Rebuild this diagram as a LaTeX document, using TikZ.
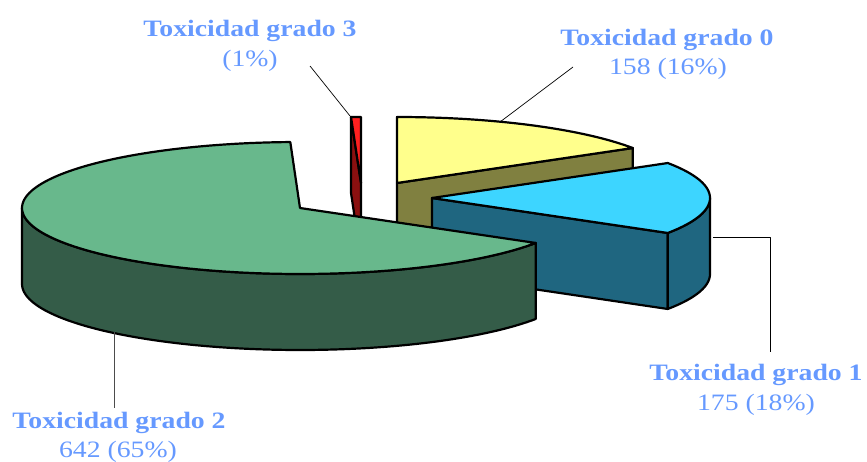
\documentclass[tikz,border=0pt]{standalone}
\usepackage{fontspec}
\setmainfont{Liberation Serif}
\usepackage{graphicx}
\definecolor{lblue}{HTML}{6699FF}
\definecolor{gtop}{HTML}{68B88C}
\definecolor{gside}{HTML}{345C48}
\definecolor{ytop}{HTML}{FFFF8C}
\definecolor{yside}{HTML}{808040}
\definecolor{ctop}{HTML}{3DD5FF}
\definecolor{cside}{HTML}{1F6680}
\definecolor{rtop}{HTML}{FF2020}
\definecolor{rside}{HTML}{8B1010}
\begin{document}
\begin{tikzpicture}[x=1pt,y=-1pt,line join=round,
  edge/.style={draw=black,line width=2.2pt},
  lbl/.style={text=lblue,font=\fontsize{23.5}{28}\selectfont,inner sep=0pt,anchor=base},
  leader/.style={draw=black,line width=0.7pt}]
\useasboundingbox (0,0) rectangle (867,462);
% ---------- yellow slice (grado 0) ----------
\filldraw[edge,fill=yside] (397,183) -- (632.8,148) -- (632.8,224) -- (397,259) -- cycle;
\filldraw[edge,fill=ytop] (397,183) -- plot[domain=-90:-32,samples=40,variable=\t] ({397+278*cos(\t)},{183+66*sin(\t)}) -- cycle;
% ---------- red slice (grado 3) ----------
\filldraw[edge,fill=rside] (351,117) -- (361,183) -- (361,259) -- (351,193) -- cycle;
\filldraw[edge,fill=rtop] (351,117) -- (361,117) -- (361,183) -- cycle;
% ---------- cyan slice (grado 1) ----------
\filldraw[edge,fill=cside] (432,198) -- (667.8,233) -- (667.8,309) -- (432,274) -- cycle;
\filldraw[edge,fill=cside] plot[domain=0:32,samples=30,variable=\t] ({432+278*cos(\t)},{198+66*sin(\t)})
  -- plot[domain=32:0,samples=30,variable=\t] ({432+278*cos(\t)},{274+66*sin(\t)}) -- cycle;
\filldraw[edge,fill=ctop] (432,198) -- plot[domain=-32:32,samples=50,variable=\t] ({432+278*cos(\t)},{198+66*sin(\t)}) -- cycle;
% ---------- green slice (grado 2) ----------
\filldraw[edge,fill=gside] plot[domain=32:180,samples=90,variable=\t] ({300+278*cos(\t)},{208+66*sin(\t)})
  -- plot[domain=180:32,samples=90,variable=\t] ({300+278*cos(\t)},{284+66*sin(\t)}) -- cycle;
\filldraw[edge,fill=gtop] (300,208) -- plot[domain=32:268,samples=140,variable=\t] ({300+278*cos(\t)},{208+66*sin(\t)}) -- cycle;
% ---------- labels ----------
\node[lbl] (lab0a) at (667,46) {\scalebox{1.18}[1]{\textbf{Toxicidad grado 0}}};
\node[lbl] (lab0b) at (668,75) {\scalebox{1.18}[1]{158 (16\%)}};
\node[lbl] (lab1a) at (756,380) {\scalebox{1.18}[1]{\textbf{Toxicidad grado 1}}};
\node[lbl] (lab1b) at (756,410) {\scalebox{1.18}[1]{175 (18\%)}};
\node[lbl] (lab2a) at (119,428) {\scalebox{1.18}[1]{\textbf{Toxicidad grado 2}}};
\node[lbl] (lab2b) at (118,457) {\scalebox{1.18}[1]{642 (65\%)}};
\node[lbl] (lab3a) at (250,37) {\scalebox{1.18}[1]{\textbf{Toxicidad grado 3}}};
\node[lbl] (lab3b) at (250,67) {\scalebox{1.18}[1]{(1\%)}};
% ---------- leader lines ----------
\coordinate (a3) at (310,66); \coordinate (b3) at (350,116);
\coordinate (a0) at (573,67); \coordinate (b0) at (500,122);
\coordinate (a1) at (713,237); \coordinate (k1) at (770,237); \coordinate (b1) at (770,352);
\coordinate (a2) at (114,332); \coordinate (b2) at (114,408);
\draw[leader] (a3) -- (b3);
\draw[leader] (a0) -- (b0);
\draw[leader] (a1) -- (k1) -- (b1);
\draw[leader,draw=black!70] (a2) -- (b2);
\end{tikzpicture}
\end{document}
